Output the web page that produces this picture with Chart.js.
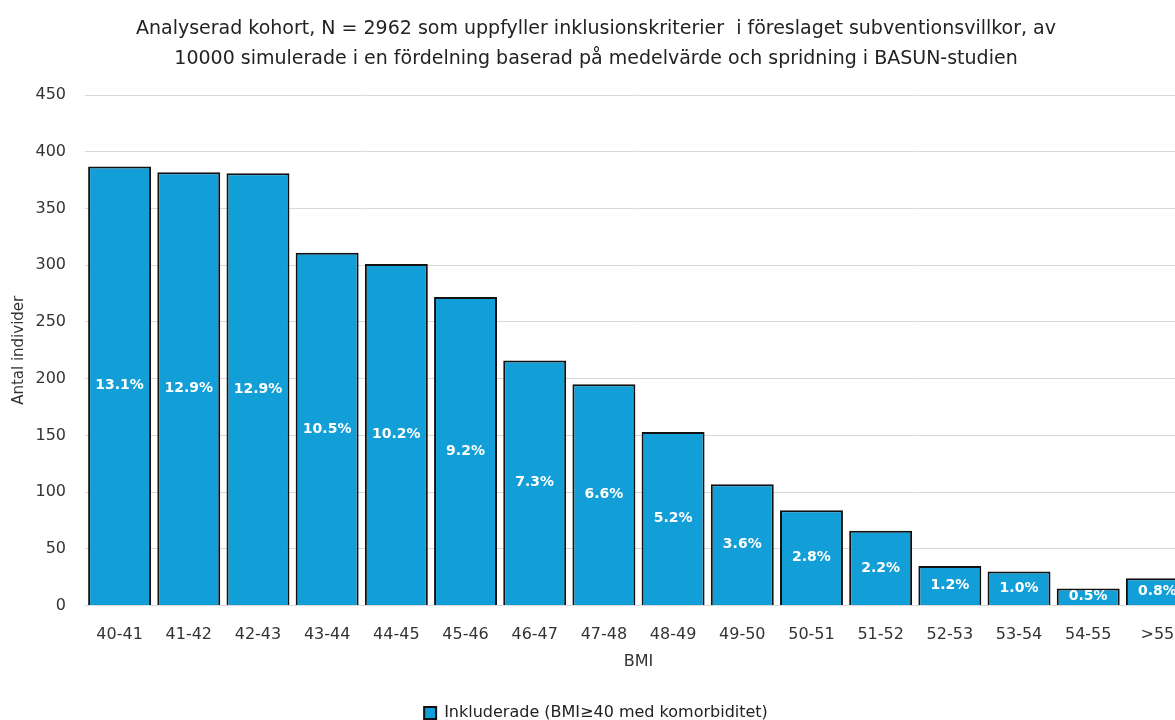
<!DOCTYPE html>
<html><head><meta charset="utf-8">
<script src="https://cdn.jsdelivr.net/npm/chart.js@4/dist/chart.umd.min.js"></script>
<style>html,body{margin:0;padding:0;background:#fff;overflow:hidden;width:1175px;height:720px}canvas{display:block}</style>
</head><body>
<canvas id="c" width="1195" height="731"></canvas>
<script>
const categories = ["40-41","41-42","42-43","43-44","44-45","45-46","46-47","47-48","48-49","49-50","50-51","51-52","52-53","53-54","54-55",">55"];
const counts = [387,382,381,311,301,272,216,195,153,107,84,66,35,30,15,24];
const percentLabels = ["13.1%","12.9%","12.9%","10.5%","10.2%","9.2%","7.3%","6.6%","5.2%","3.6%","2.8%","2.2%","1.2%","1.0%","0.5%","0.8%"];
const seriesName = "Inkluderade (BMI\u226540 med komorbiditet)";
const titleLines = ["Analyserad kohort, N = 2962 som uppfyller inklusionskriterier  i föreslaget subventionsvillkor, av","10000 simulerade i en fördelning baserad på medelvärde och spridning i BASUN-studien"];

const FONT = "'DejaVu Sans', sans-serif";
const barLabels = {
  id:'barLabels',
  afterDatasetsDraw(chart){
    const ctx = chart.ctx;
    const meta = chart.getDatasetMeta(0);
    ctx.save();
    ctx.fillStyle = '#ffffff';
    ctx.font = 'bold 14px ' + FONT;
    ctx.textAlign = 'center';
    ctx.textBaseline = 'middle';
    meta.data.forEach((bar,i)=>{
      const y = (bar.y + bar.base)/2;
      ctx.fillText(percentLabels[i], bar.x, y);
    });
    ctx.restore();
  }
};

new Chart(document.getElementById('c'), {
  type:'bar',
  data:{labels:categories,datasets:[{label:seriesName,data:counts,backgroundColor:'#129ed6',borderColor:'#111111',borderWidth:2,categoryPercentage:1,barPercentage:0.91}]},
  options:{
    responsive:false, animation:false,
    layout:{padding:{left:0,right:3,top:12,bottom:0}},
    plugins:{
      title:{display:true,text:titleLines,color:'#222',font:{family:FONT,size:19,weight:'normal',lineHeight:1.58},padding:{top:2,bottom:21}},
      legend:{position:'bottom',labels:{color:'#222',font:{family:FONT,size:16},boxWidth:12,boxHeight:12,padding:0},onClick:null},
      tooltip:{enabled:false}
    },
    scales:{
      x:{grid:{display:false},border:{display:false},ticks:{color:'#333',font:{family:FONT,size:16},padding:12},
         title:{display:true,text:'BMI',color:'#333',font:{family:FONT,size:16},padding:{top:-5,bottom:34}}},
      y:{min:0,max:450,grid:{color:'#d9d9d9',drawTicks:false},border:{display:false},
         afterFit(scale){ scale.width = 85; },
         ticks:{stepSize:50,color:'#333',font:{family:FONT,size:16},padding:19},
         title:{display:true,text:'Antal individer',color:'#333',font:{family:FONT,size:15},padding:{top:10,bottom:0}}}
    }
  },
  plugins:[barLabels]
});
</script>
</body></html>
